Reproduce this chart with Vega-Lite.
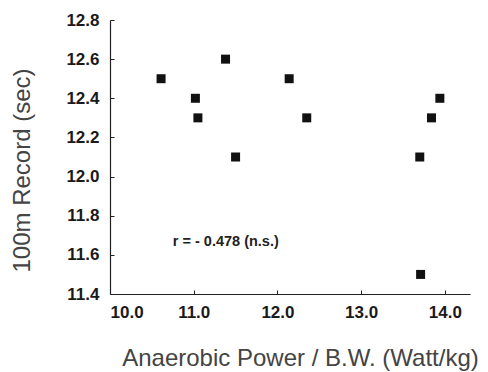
{
  "$schema": "https://vega.github.io/schema/vega-lite/v6.json",
  "width": 360,
  "height": 274,
  "autosize": {"type": "none"},
  "padding": {"left": 110, "top": 20, "right": 18, "bottom": 78},
  "config": {
    "view": {"stroke": null},
    "font": "Liberation Sans",
    "axis": {
      "grid": false,
      "domainColor": "#222",
      "domainWidth": 1.2,
      "tickColor": "#222",
      "tickSize": -4,
      "labelOverlap": false,
      "labelFont": "Liberation Sans",
      "labelFontWeight": "bold",
      "labelFontSize": 17,
      "labelColor": "#1a1a1a",
      "titleFont": "Liberation Sans",
      "titleFontWeight": "normal",
      "titleFontSize": 24,
      "titleColor": "#444"
    }
  },
  "encoding": {
    "x": {
      "field": "power", "type": "quantitative",
      "scale": {"domain": [10, 14.3], "nice": false, "zero": false},
      "axis": {"values": [10, 11, 12, 13, 14], "format": ".1f", "labelPadding": 14, "labelOverlap": false, "title": "Anaerobic Power / B.W. (Watt/kg)", "titlePadding": 26, "titleX": 190}
    },
    "y": {
      "field": "record", "type": "quantitative",
      "scale": {"domain": [11.4, 12.8], "nice": false, "zero": false},
      "axis": {"values": [11.4, 11.6, 11.8, 12.0, 12.2, 12.4, 12.6, 12.8], "format": ".1f", "labelPadding": 15, "labelOverlap": false, "labelFlush": false, "labelBound": false, "title": "100m Record (sec)", "titleX": -76, "titleY": 150}
    }
  },
  "layer": [
    {
      "data": {
        "values": [
          {"power": 10.61, "record": 12.5},
          {"power": 11.02, "record": 12.4},
          {"power": 11.05, "record": 12.3},
          {"power": 11.38, "record": 12.6},
          {"power": 11.5, "record": 12.1},
          {"power": 12.14, "record": 12.5},
          {"power": 12.35, "record": 12.3},
          {"power": 13.7, "record": 12.1},
          {"power": 13.71, "record": 11.5},
          {"power": 13.84, "record": 12.3},
          {"power": 13.94, "record": 12.4}
        ]
      },
      "mark": {"type": "point", "shape": "square", "filled": true, "size": 81, "color": "#111", "opacity": 1}
    },
    {
      "data": {"values": [{"power": 10.75, "record": 11.665, "label": "r = - 0.478 (n.s.)"}]},
      "mark": {"type": "text", "align": "left", "baseline": "middle", "fontWeight": "bold", "fontSize": 14.5, "color": "#222", "font": "Liberation Sans"},
      "encoding": {
        "text": {"field": "label"}
      }
    }
  ]
}
